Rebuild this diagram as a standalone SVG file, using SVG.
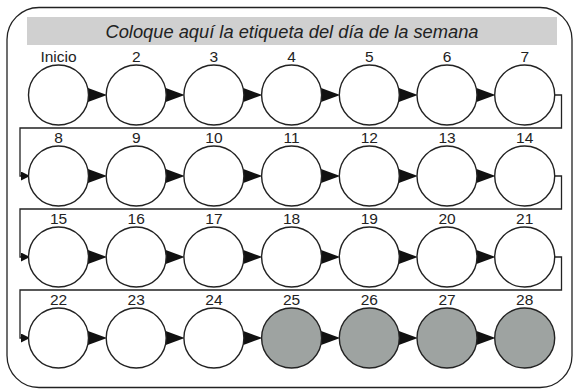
<svg xmlns="http://www.w3.org/2000/svg" width="573" height="390" viewBox="0 0 573 390">
<style>
.c{fill:#fff;stroke:#222;stroke-width:1.4}
.g{fill:#9ea3a1;stroke:#222;stroke-width:1.4}
.lbl{font-family:"Liberation Sans",Arial,sans-serif;font-size:15.5px;fill:#222;text-anchor:middle}
.ttl{font-family:"Liberation Sans",Arial,sans-serif;font-size:18.3px;font-style:italic;fill:#222;text-anchor:middle}
.w{fill:none;stroke:#222;stroke-width:1.3}
.t{fill:#111}
</style>
<defs>
<marker id="ah" viewBox="0 0 10 10" refX="10" refY="5" markerWidth="10" markerHeight="9" markerUnits="userSpaceOnUse" orient="auto">
<path d="M0,0 L10,5 L0,10 Z" fill="#111"/>
</marker>
</defs>
<rect x="7" y="7.5" width="565" height="380" rx="32" ry="32" fill="#fff" stroke="#222" stroke-width="1.3"/>
<rect x="27" y="17" width="530" height="28" fill="#d0d0d0"/>
<text class="ttl" x="292" y="37.5">Coloque aquí la etiqueta del día de la semana</text>
<g id="connectors">
<path class="t" d="M88,88 L107,95 L88,102 Z"/>
<path class="t" d="M165.7,88 L184.7,95 L165.7,102 Z"/>
<path class="t" d="M243.4,88 L262.4,95 L243.4,102 Z"/>
<path class="t" d="M321.1,88 L340.1,95 L321.1,102 Z"/>
<path class="t" d="M398.8,88 L417.8,95 L398.8,102 Z"/>
<path class="t" d="M476.5,88 L495.5,95 L476.5,102 Z"/>
<path class="t" d="M88,169 L107,176 L88,183 Z"/>
<path class="t" d="M165.7,169 L184.7,176 L165.7,183 Z"/>
<path class="t" d="M243.4,169 L262.4,176 L243.4,183 Z"/>
<path class="t" d="M321.1,169 L340.1,176 L321.1,183 Z"/>
<path class="t" d="M398.8,169 L417.8,176 L398.8,183 Z"/>
<path class="t" d="M476.5,169 L495.5,176 L476.5,183 Z"/>
<path class="t" d="M88,250 L107,257 L88,264 Z"/>
<path class="t" d="M165.7,250 L184.7,257 L165.7,264 Z"/>
<path class="t" d="M243.4,250 L262.4,257 L243.4,264 Z"/>
<path class="t" d="M321.1,250 L340.1,257 L321.1,264 Z"/>
<path class="t" d="M398.8,250 L417.8,257 L398.8,264 Z"/>
<path class="t" d="M476.5,250 L495.5,257 L476.5,264 Z"/>
<path class="t" d="M88,331 L107,338 L88,345 Z"/>
<path class="t" d="M165.7,331 L184.7,338 L165.7,345 Z"/>
<path class="t" d="M243.4,331 L262.4,338 L243.4,345 Z"/>
<path class="t" d="M321.1,331 L340.1,338 L321.1,345 Z"/>
<path class="t" d="M398.8,331 L417.8,338 L398.8,345 Z"/>
<path class="t" d="M476.5,331 L495.5,338 L476.5,345 Z"/>
<path class="w" d="M554.5,95 H561.5 V128 H20 V176 H30" marker-end="url(#ah)"/>
<path class="w" d="M554.5,176 H561.5 V209 H20 V257 H30" marker-end="url(#ah)"/>
<path class="w" d="M554.5,257 H561.5 V290 H20 V338 H30" marker-end="url(#ah)"/>
</g>
<g id="n1"><circle class="c" cx="58.5" cy="95" r="30"/><text class="lbl" x="58.5" y="61.5">Inicio</text></g>
<g id="n2"><circle class="c" cx="136.2" cy="95" r="30"/><text class="lbl" x="136.2" y="61.5">2</text></g>
<g id="n3"><circle class="c" cx="213.9" cy="95" r="30"/><text class="lbl" x="213.9" y="61.5">3</text></g>
<g id="n4"><circle class="c" cx="291.6" cy="95" r="30"/><text class="lbl" x="291.6" y="61.5">4</text></g>
<g id="n5"><circle class="c" cx="369.3" cy="95" r="30"/><text class="lbl" x="369.3" y="61.5">5</text></g>
<g id="n6"><circle class="c" cx="447" cy="95" r="30"/><text class="lbl" x="447" y="61.5">6</text></g>
<g id="n7"><circle class="c" cx="524.7" cy="95" r="30"/><text class="lbl" x="524.7" y="61.5">7</text></g>
<g id="n8"><circle class="c" cx="58.5" cy="176" r="30"/><text class="lbl" x="58.5" y="142.5">8</text></g>
<g id="n9"><circle class="c" cx="136.2" cy="176" r="30"/><text class="lbl" x="136.2" y="142.5">9</text></g>
<g id="n10"><circle class="c" cx="213.9" cy="176" r="30"/><text class="lbl" x="213.9" y="142.5">10</text></g>
<g id="n11"><circle class="c" cx="291.6" cy="176" r="30"/><text class="lbl" x="291.6" y="142.5">11</text></g>
<g id="n12"><circle class="c" cx="369.3" cy="176" r="30"/><text class="lbl" x="369.3" y="142.5">12</text></g>
<g id="n13"><circle class="c" cx="447" cy="176" r="30"/><text class="lbl" x="447" y="142.5">13</text></g>
<g id="n14"><circle class="c" cx="524.7" cy="176" r="30"/><text class="lbl" x="524.7" y="142.5">14</text></g>
<g id="n15"><circle class="c" cx="58.5" cy="257" r="30"/><text class="lbl" x="58.5" y="223.5">15</text></g>
<g id="n16"><circle class="c" cx="136.2" cy="257" r="30"/><text class="lbl" x="136.2" y="223.5">16</text></g>
<g id="n17"><circle class="c" cx="213.9" cy="257" r="30"/><text class="lbl" x="213.9" y="223.5">17</text></g>
<g id="n18"><circle class="c" cx="291.6" cy="257" r="30"/><text class="lbl" x="291.6" y="223.5">18</text></g>
<g id="n19"><circle class="c" cx="369.3" cy="257" r="30"/><text class="lbl" x="369.3" y="223.5">19</text></g>
<g id="n20"><circle class="c" cx="447" cy="257" r="30"/><text class="lbl" x="447" y="223.5">20</text></g>
<g id="n21"><circle class="c" cx="524.7" cy="257" r="30"/><text class="lbl" x="524.7" y="223.5">21</text></g>
<g id="n22"><circle class="c" cx="58.5" cy="338" r="30"/><text class="lbl" x="58.5" y="304.5">22</text></g>
<g id="n23"><circle class="c" cx="136.2" cy="338" r="30"/><text class="lbl" x="136.2" y="304.5">23</text></g>
<g id="n24"><circle class="c" cx="213.9" cy="338" r="30"/><text class="lbl" x="213.9" y="304.5">24</text></g>
<g id="n25"><circle class="g" cx="291.6" cy="338" r="30"/><text class="lbl" x="291.6" y="304.5">25</text></g>
<g id="n26"><circle class="g" cx="369.3" cy="338" r="30"/><text class="lbl" x="369.3" y="304.5">26</text></g>
<g id="n27"><circle class="g" cx="447" cy="338" r="30"/><text class="lbl" x="447" y="304.5">27</text></g>
<g id="n28"><circle class="g" cx="524.7" cy="338" r="30"/><text class="lbl" x="524.7" y="304.5">28</text></g>
</svg>
